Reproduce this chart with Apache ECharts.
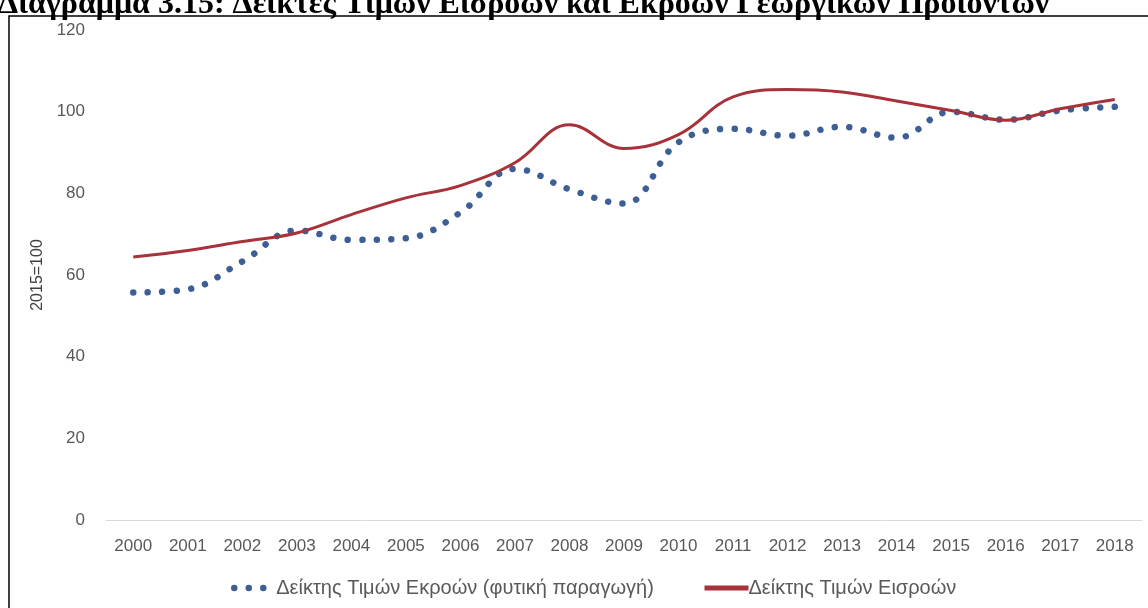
<!DOCTYPE html>
<html>
<head>
<meta charset="utf-8">
<script src="https://cdn.jsdelivr.net/npm/echarts@6/dist/echarts.min.js"></script>
<style>
html,body{margin:0;padding:0;background:#fff;}
#chart{width:1148px;height:608px;}
</style>
</head>
<body>
<div id="chart"></div>
<script>
const years = ['2000','2001','2002','2003','2004','2005','2006','2007','2008','2009','2010','2011','2012','2013','2014','2015','2016','2017','2018'];
const outputIndex = [55.7, 56.5, 63.3, 70.9, 68.6, 69.0, 75.3, 86.0, 81.0, 77.5, 92.5, 95.8, 94.1, 96.3, 93.6, 100.0, 98.0, 100.3, 101.2];
const inputIndex = [64.4, 66.0, 68.2, 70.3, 74.8, 78.9, 81.9, 87.5, 96.8, 91.0, 94.4, 103.6, 105.4, 104.8, 102.6, 100.3, 97.9, 100.7, 103.0];
const outputName = 'Δείκτης Τιμών Εκροών (φυτική παραγωγή)';
const inputName = 'Δείκτης Τιμών Εισροών';
const titleText = 'Διάγραμμα 3.15: Δείκτες Τιμών Εισροών και Εκροών Γεωργικών Προϊόντων';
const yAxisName = '2015=100';

const chart = echarts.init(document.getElementById('chart'));
const textColor = '#595959';
const font = 'Liberation Sans';
chart.setOption({
  animation: false,
  grid: {left: 106, right: 6, top: 30, bottom: 88},
  xAxis: {
    type: 'category', data: years, boundaryGap: true,
    axisLine: {lineStyle: {color: '#d9d9d9', width: 1}},
    axisTick: {show: false},
    axisLabel: {color: textColor, fontFamily: font, fontSize: 17, margin: 18}
  },
  yAxis: {
    type: 'value', min: 0, max: 120, interval: 20,
    splitLine: {show: false},
    axisLine: {show: false}, axisTick: {show: false},
    axisLabel: {color: textColor, fontFamily: font, fontSize: 17, margin: 21}
  },
  legend: [{
    data: [{name: outputName, lineStyle: {type: [0.01, 14.5], cap: 'round', width: 6.5}}],
    left: 226, top: 573, itemWidth: 30, itemHeight: 14,
    itemStyle: {opacity: 0},
    textStyle: {color: textColor, fontFamily: font, fontSize: 20, padding: [0, 0, 0, 7]}
  }, {
    data: [{name: inputName, lineStyle: {width: 5}}],
    left: 697, top: 573, itemWidth: 44, itemHeight: 14,
    itemStyle: {opacity: 0},
    textStyle: {color: textColor, fontFamily: font, fontSize: 20, padding: [0, 0, 0, -5]}
  }],
  series: [{
    name: outputName, type: 'line', data: outputIndex, smooth: 0.4,
    symbol: 'none',
    lineStyle: {color: '#3d5f95', width: 6.5, type: [0.01, 14.5], cap: 'round'},
    itemStyle: {color: '#3d5f95'}
  }, {
    name: inputName, type: 'line', data: inputIndex, smooth: 0.4,
    symbol: 'none',
    lineStyle: {color: '#a8323a', width: 3},
    itemStyle: {color: '#a8323a'}
  }],
  graphic: [{
    type: 'rect', shape: {x: 9, y: 16, width: 1160, height: 620},
    style: {fill: 'none', stroke: '#000', lineWidth: 1.5}, silent: true
  }, {
    type: 'text', x: -2, y: 21,
    style: {text: titleText, font: 'bold 32px "Liberation Serif"', fill: '#000', verticalAlign: 'bottom'}
  }, {
    type: 'text', x: 38, y: 275, rotation: Math.PI / 2,
    style: {text: yAxisName, font: '16px "Liberation Sans"', fill: '#404040', align: 'center', verticalAlign: 'middle'}
  }]
});
</script>
</body>
</html>
